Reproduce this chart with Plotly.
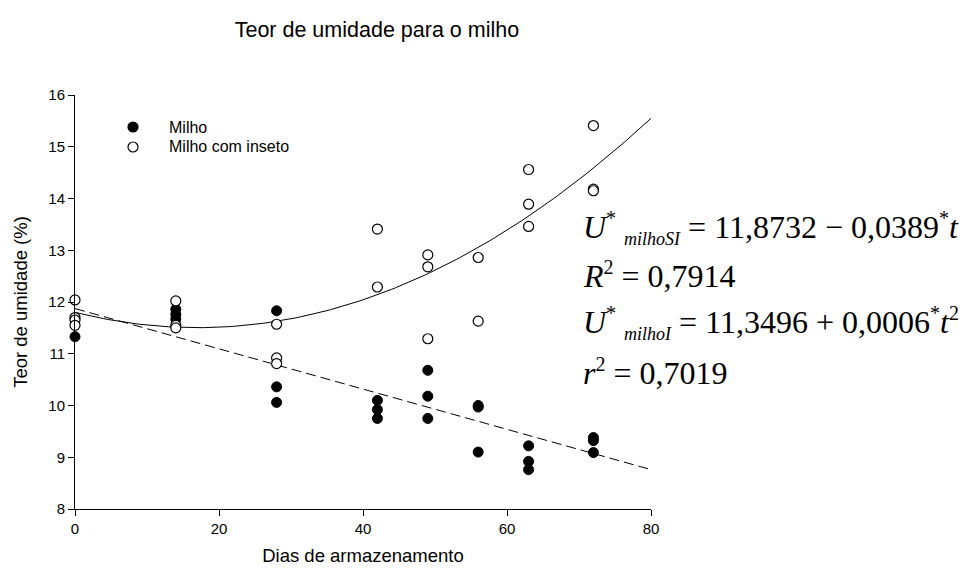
import numpy as np
import plotly.graph_objects as go

# Days of storage (x) and moisture content (%) for each treatment
milho_dias = [0, 14, 14, 14, 28, 28, 28, 42, 42, 42, 49, 49, 49, 56, 56, 56, 63, 63, 63, 72, 72, 72]
milho_umid = [11.33, 11.86, 11.76, 11.67, 11.83, 10.36, 10.06, 10.10, 9.92, 9.75,
              10.68, 10.18, 9.75, 10.00, 9.97, 9.10, 9.22, 8.92, 8.76, 9.38, 9.32, 9.09]

inseto_dias = [0, 0, 0, 0, 14, 14, 14, 28, 28, 28, 42, 42, 49, 49, 49, 56, 56, 63, 63, 63, 72, 72, 72]
inseto_umid = [12.04, 11.70, 11.65, 11.55, 12.02, 11.55, 11.50, 11.57, 10.92, 10.81,
               13.41, 12.29, 12.91, 12.68, 11.29, 12.86, 11.63, 14.56, 13.89, 13.46, 15.41, 14.18, 14.15]

# Fitted regression coefficients (c0, c1, c2) for y = c0 + c1*t + c2*t^2
coef_milho = [11.8732, -0.0389, 0.0]
coef_inseto = [11.80, -0.03476, 0.0010204]

series_names = ["Milho", "Milho com inseto"]
x_ticks = [0, 20, 40, 60, 80]
y_ticks = [8, 9, 10, 11, 12, 13, 14, 15, 16]

t = np.linspace(0, 80, 161)
fit_milho = coef_milho[0] + coef_milho[1] * t + coef_milho[2] * t ** 2
fit_inseto = coef_inseto[0] + coef_inseto[1] * t + coef_inseto[2] * t ** 2

fig = go.Figure()
fig.add_trace(go.Scatter(x=t, y=fit_milho, mode="lines", showlegend=False,
                         line=dict(color="black", width=1, dash="10px,5px"), hoverinfo="skip"))
fig.add_trace(go.Scatter(x=t, y=fit_inseto, mode="lines", showlegend=False,
                         line=dict(color="black", width=1), hoverinfo="skip"))
fig.add_trace(go.Scatter(x=milho_dias, y=milho_umid, mode="markers", name=series_names[0],
                         showlegend=False,
                         marker=dict(symbol="circle", size=10, color="black",
                                     line=dict(color="black", width=1)),
                         cliponaxis=False))
fig.add_trace(go.Scatter(x=inseto_dias, y=inseto_umid, mode="markers", name=series_names[1],
                         showlegend=False,
                         marker=dict(symbol="circle", size=10, color="white",
                                     line=dict(color="black", width=1.2)),
                         cliponaxis=False))

# manual legend (symbols as pixel-sized shapes, labels as annotations)
legend_rows = [(0.9227, "black"), (0.8744, "white")]
shapes = []
annotations = []
for (yy, fillc), name in zip(legend_rows, series_names):
    shapes.append(dict(type="circle", xref="paper", yref="paper", xsizemode="pixel",
                       ysizemode="pixel", xanchor=0.1007, yanchor=yy,
                       x0=-5, x1=5, y0=-5, y1=5, fillcolor=fillc,
                       line=dict(color="black", width=1.2)))
    annotations.append(dict(text=name, xref="paper", yref="paper", x=0.1597, y=yy,
                            xanchor="left", yanchor="middle", showarrow=False,
                            font=dict(family="Liberation Sans", size=16, color="black")))

SUB = '<sub><span style="font-size:18px"><i>{}</i></span></sub>'
SUP = '<sup><span style="font-size:20px">{}</span></sup>'
eq_font = dict(family="Liberation Serif", size=32, color="black")
equations = [
    ("<i>U</i>" + SUP.format("*") + " " + SUB.format("milhoSI") + " = 11,8732 \u2212 0,0389"
     + SUP.format("*") + "<i>t</i>", 0.679),
    ("<i>R</i>" + SUP.format("2") + " = 0,7914", 0.566),
    ("<i>U</i>" + SUP.format("*") + " " + SUB.format("milhoI") + " = 11,3496 + 0,0006"
     + SUP.format("*") + "<i>t</i>" + SUP.format("2"), 0.450),
    ("<i>r</i>" + SUP.format("2") + " = 0,7019", 0.331),
]
for txt, yy in equations:
    annotations.append(dict(text=txt, xref="paper", yref="paper", x=0.879, y=yy,
                            xanchor="left", yanchor="middle", showarrow=False, font=eq_font))

axis_common = dict(showline=True, linecolor="black", linewidth=1, ticks="outside",
                   ticklen=6, tickcolor="black", tickwidth=1, showgrid=False, zeroline=False,
                   tickfont=dict(family="Liberation Sans", size=15, color="black"))

fig.update_layout(
    width=979, height=576,
    margin=dict(l=75, r=328, t=95, b=67),
    paper_bgcolor="white", plot_bgcolor="white",
    title=dict(text="Teor de umidade para o milho", x=0.385, xanchor="center",
               y=0.948, yanchor="middle", yref="container",
               font=dict(family="Liberation Sans", size=21.5, color="black")),
    xaxis=dict(range=[0, 80], tickvals=x_ticks,
               title=dict(text="Dias de armazenamento", standoff=13,
                          font=dict(family="Liberation Sans", size=18.5, color="black")),
               **axis_common),
    yaxis=dict(range=[8, 16], tickvals=y_ticks,
               title=dict(text="Teor de umidade (%)", standoff=15,
                          font=dict(family="Liberation Sans", size=18.5, color="black")),
               **axis_common),
    shapes=shapes,
    annotations=annotations,
    showlegend=False,
)

fig.write_html("out.html")
